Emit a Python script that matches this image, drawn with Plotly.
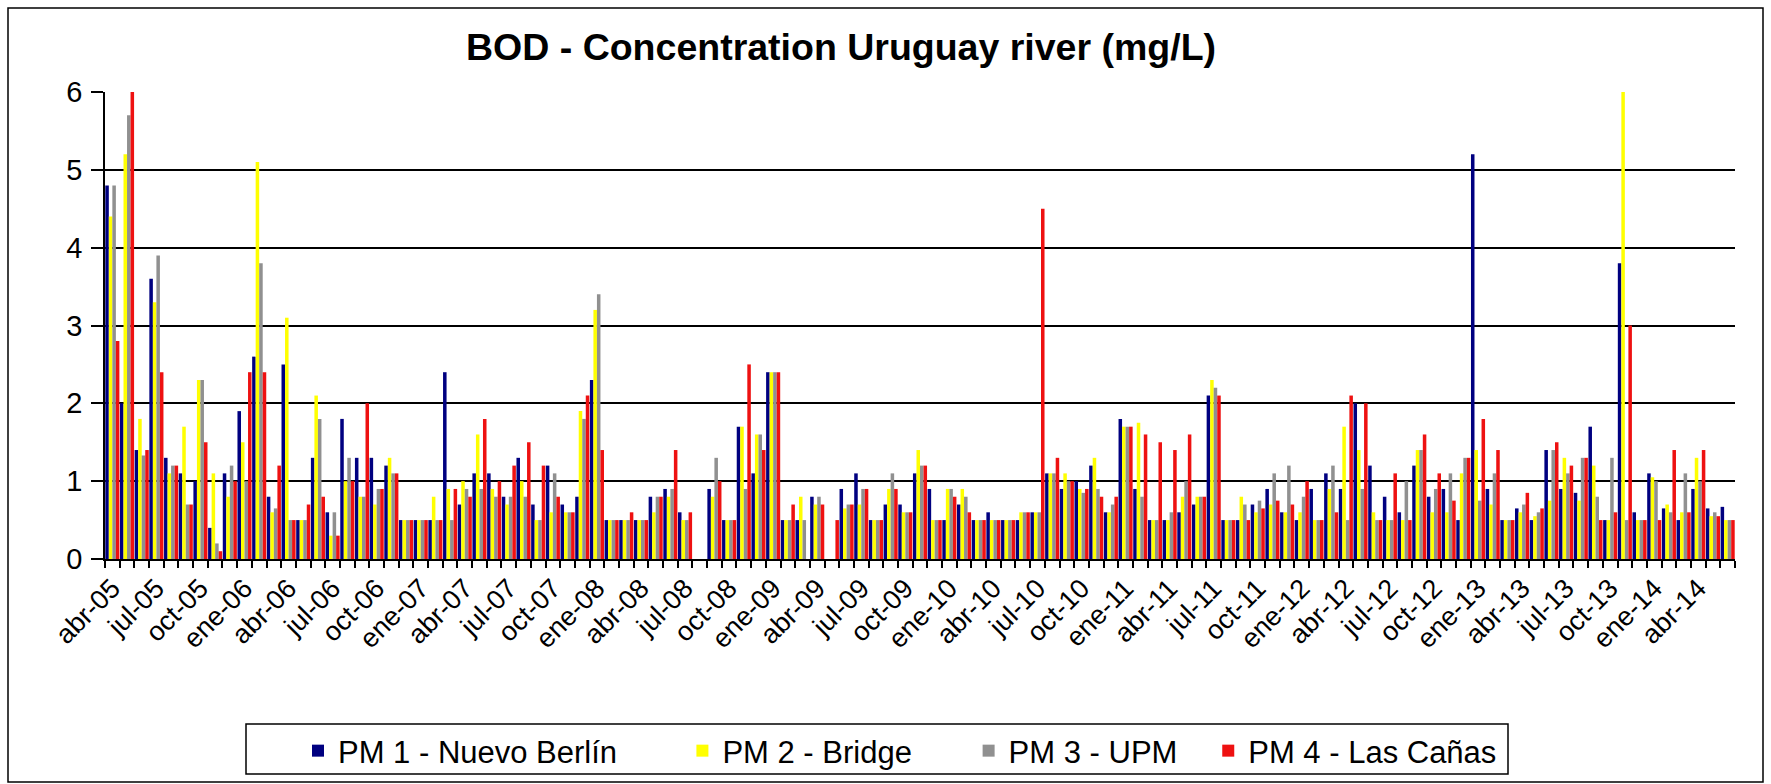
import plotly.graph_objects as go

# ---------------- data ----------------
months_es = ["ene", "feb", "mar", "abr", "may", "jun", "jul", "ago", "sep", "oct", "nov", "dic"]
months = []
y, m = 2005, 3
for _ in range(111):
    months.append(f"{months_es[m]}-{str(y)[2:]}")
    m += 1
    if m == 12:
        m = 0
        y += 1

pm1 = [4.8, 2.0, 1.4, 3.6, 1.3, 1.1, 1.0, 0.4, 1.1, 1.9,
       2.6, 0.8, 2.5, 0.5, 1.3, 0.6, 1.8, 1.3, 1.3, 1.2,
       0.5, 0.5, 0.5, 2.4, 0.7, 1.1, 1.1, 0.8, 1.3, 0.7,
       1.2, 0.7, 0.8, 2.3, 0.5, 0.5, 0.5, 0.8, 0.9, 0.6,
       None, 0.9, 0.5, 1.7, 1.1, 2.4, 0.5, 0.5, 0.8, None,
       0.9, 1.1, 0.5, 0.7, 0.7, 1.1, 0.9, 0.5, 0.7, 0.5,
       0.6, 0.5, 0.5, 0.6, 1.1, 0.9, 1.0, 1.2, 0.6, 1.8,
       0.9, 0.5, 0.5, 0.6, 0.7, 2.1, 0.5, 0.5, 0.7, 0.9,
       0.6, 0.5, 0.9, 1.1, 0.9, 2.0, 1.2, 0.8, 0.6, 1.2,
       0.8, 0.9, 0.5, 5.2, 0.9, 0.5, 0.65, 0.5, 1.4, 0.9,
       0.85, 1.7, 0.5, 3.8, 0.6, 1.1, 0.65, 0.5, 0.9, 0.65,
       0.67]
pm2 = [4.4, 5.2, 1.8, 3.3, 1.1, 1.7, 2.3, 1.1, 0.8, 1.5,
       5.1, 0.6, 3.1, 0.5, 2.1, 0.3, 1.0, 0.8, 0.7, 1.3,
       0.5, 0.5, 0.8, 0.9, 1.0, 1.6, 0.9, 0.7, 1.0, 0.5,
       0.6, 0.6, 1.9, 3.2, 0.5, 0.5, 0.5, 0.6, 0.8, 0.5,
       None, 0.8, 0.5, 1.7, 1.6, 2.4, 0.5, 0.8, 0.7, None,
       0.65, 0.7, 0.5, 0.9, 0.6, 1.4, 0.5, 0.9, 0.9, 0.5,
       0.5, 0.5, 0.6, 0.6, 1.1, 1.1, 0.9, 1.3, 0.6, 1.7,
       1.75, 0.5, 0.5, 0.8, 0.8, 2.3, 0.5, 0.8, 0.6, 0.7,
       0.6, 0.6, 0.5, 0.9, 1.7, 1.4, 0.6, 0.5, 0.5, 1.4,
       0.6, 0.6, 1.1, 1.4, 0.7, 0.5, 0.6, 0.55, 0.75, 1.3,
       0.75, 1.2, 0.5, 6.0, 0.5, 1.05, 0.7, 0.6, 1.3, 0.55,
       0.5]
pm3 = [4.8, 5.7, 1.33, 3.9, 1.2, 0.7, 2.3, 0.2, 1.2, 1.0,
       3.8, 0.65, 0.5, 0.5, 1.8, 0.6, 1.3, 0.8, 0.9, 1.1,
       0.5, 0.5, 0.5, 0.5, 0.9, 0.9, 0.8, 0.8, 0.8, 0.5,
       1.1, 0.6, 1.8, 3.4, 0.5, 0.5, 0.5, 0.8, 0.9, 0.5,
       None, 1.3, 0.5, 0.9, 1.6, 2.4, 0.5, 0.5, 0.8, None,
       0.7, 0.9, 0.5, 1.1, 0.6, 1.2, 0.5, 0.9, 0.8, 0.5,
       0.5, 0.5, 0.6, 0.6, 1.1, 1.0, 0.85, 0.9, 0.7, 1.7,
       0.8, 0.5, 0.6, 1.0, 0.8, 2.2, 0.5, 0.7, 0.75, 1.1,
       1.2, 0.8, 0.5, 1.2, 0.5, 0.9, 0.5, 0.5, 1.0, 1.4,
       0.9, 1.1, 1.3, 0.75, 1.1, 0.5, 0.7, 0.6, 1.4, 1.1,
       1.3, 0.8, 1.3, 0.5, 0.5, 1.0, 0.6, 1.1, 1.0, 0.6,
       0.5]
pm4 = [2.8, 6.0, 1.4, 2.4, 1.2, 0.7, 1.5, 0.1, 1.0, 2.4,
       2.4, 1.2, 0.5, 0.7, 0.8, 0.3, 1.0, 2.0, 0.9, 1.1,
       0.5, 0.5, 0.5, 0.9, 0.8, 1.8, 1.0, 1.2, 1.5, 1.2,
       0.8, 0.6, 2.1, 1.4, 0.5, 0.6, 0.5, 0.8, 1.4, 0.6,
       None, 1.0, 0.5, 2.5, 1.4, 2.4, 0.7, None, 0.7, 0.5,
       0.7, 0.9, 0.5, 0.9, 0.6, 1.2, 0.5, 0.8, 0.6, 0.5,
       0.5, 0.5, 0.6, 4.5, 1.3, 1.0, 0.9, 0.8, 0.8, 1.7,
       1.6, 1.5, 1.4, 1.6, 0.8, 2.1, 0.5, 0.5, 0.65, 0.75,
       0.7, 1.0, 0.5, 0.6, 2.1, 2.0, 0.5, 1.1, 0.5, 1.6,
       1.1, 0.75, 1.3, 1.8, 1.4, 0.5, 0.85, 0.65, 1.5, 1.2,
       1.3, 0.5, 0.6, 3.0, 0.5, 0.5, 1.4, 0.6, 1.4, 0.55,
       0.5]

series_names = ["PM 1 - Nuevo Berlín", "PM 2 - Bridge", "PM 3 - UPM", "PM 4 - Las Cañas"]
series_colors = ["#000080", "#FFFF00", "#909090", "#EE1111"]
series_values = [pm1, pm2, pm3, pm4]
legend_pads = [7, 6, 3, 0]

tick_idx = list(range(0, 111, 3))
tick_labels = [months[i] for i in tick_idx]

# ---------------- figure ----------------
FONT = "Liberation Sans, Arial, sans-serif"
x = list(range(len(months)))

fig = go.Figure()
for name, col, vals, npad in zip(series_names, series_colors, series_values, legend_pads):
    fig.add_trace(go.Bar(x=x, y=vals, name=name + "\u00a0" * npad,
                         marker=dict(color=col, line=dict(width=0))))

W, H = 1771, 784
ml, mr, mt, mb = 105, 36, 92, 225
pw, ph = W - ml - mr, H - mt - mb

def px_x(p):
    return (p - ml) / pw

def px_y(p):
    return (H - mb - p) / ph

fig.update_layout(
    width=W, height=H,
    margin=dict(l=ml, r=mr, t=mt, b=mb, autoexpand=False),
    paper_bgcolor="white", plot_bgcolor="white",
    barmode="group", bargap=0.04, bargroupgap=0,
    font=dict(family=FONT, color="black"),
    title=dict(text="<b>BOD - Concentration Uruguay river (mg/L)</b>",
               x=841 / W, xanchor="center", y=1 - 47 / H, yanchor="middle",
               font=dict(size=37.5, family=FONT, color="black")),
    showlegend=True,
    legend=dict(orientation="h", xref="container", yref="container",
                x=298 / W, xanchor="left", y=1 - 724 / H, yanchor="top",
                borderwidth=0, bgcolor="rgba(0,0,0,0)",
                font=dict(size=31, family=FONT), itemwidth=30,
                traceorder="normal"),
    xaxis=dict(range=[-0.5, len(months) - 0.5], tickmode="array", tickvals=tick_idx,
               ticktext=tick_labels, tickangle=-45, ticks="outside", ticklen=1,
               tickcolor="white", tickfont=dict(size=27, family=FONT), automargin=False,
               showline=True, linecolor="black", linewidth=1.5, showgrid=False, zeroline=False,
               minor=dict(tickmode="array", tickvals=[i - 0.5 for i in range(len(months) + 1)],
                          ticks="outside", ticklen=7, tickcolor="black", tickwidth=1.5)),
    yaxis=dict(range=[0, 6], tickmode="array", tickvals=[0, 1, 2, 3, 4, 5, 6],
               ticks="outside", ticklen=12, tickcolor="black", tickwidth=1.5,
               tickfont=dict(size=29, family=FONT), ticklabelstandoff=3, automargin=False,
               showline=True, linecolor="black", linewidth=1.5,
               showgrid=True, gridcolor="black", gridwidth=1.5, zeroline=False),
    shapes=[
        dict(type="rect", xref="paper", yref="paper",
             x0=px_x(8), x1=px_x(1763), y0=px_y(782), y1=px_y(8),
             line=dict(color="black", width=1.5), fillcolor="rgba(0,0,0,0)", layer="below"),
        dict(type="rect", xref="paper", yref="paper",
             x0=px_x(246), x1=px_x(1508), y0=px_y(774), y1=px_y(724),
             line=dict(color="black", width=1.5), fillcolor="rgba(0,0,0,0)", layer="below"),
    ],
)

fig.write_html("out.html", config={"displayModeBar": False},
               post_script="document.body.style.margin='0px';")
